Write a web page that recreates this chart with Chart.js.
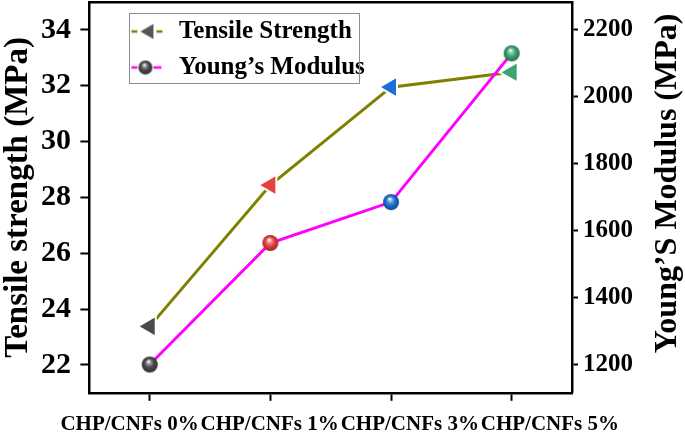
<!DOCTYPE html>
<html><head><meta charset="utf-8">
<script src="https://cdn.jsdelivr.net/npm/chart.js@4/dist/chart.umd.min.js"></script>
<style>html,body{margin:0;padding:0;background:#fff;}#wrap{width:685px;height:441px;}</style>
</head><body><div id="wrap"><canvas id="c" width="685" height="441"></canvas></div>
<script>
const categories = ['CHP/CNFs 0%', 'CHP/CNFs 1%', 'CHP/CNFs 3%', 'CHP/CNFs 5%'];
const tensileStrength = [23.38, 28.44, 31.95, 32.48];
const youngsModulus = [1201, 1564, 1686, 2130];
const markerColors = ['#4a4a4a', '#e8403f', '#1c6fd8', '#36a66e'];
const seriesNames = ['Tensile Strength', 'Young\u2019s Modulus'];
const axisTitles = ['Tensile strength (MPa)', 'Young\u2019S Modulus (MPa)'];
const tensileRange = [21, 35];
const modulusRange = [1116.67, 2283.33];
const tensileTickValues = [22, 24, 26, 28, 30, 32, 34];
const modulusTickValues = [1200, 1400, 1600, 1800, 2000, 2200];
const labelIndex = [0, 1, 2, 3];

const FONT = "'Liberation Serif', 'Times New Roman', serif";
const OLIVE = '#808000';
const MAGENTA = '#ff00ff';

function mix(hex, amt) {
  const n = parseInt(hex.slice(1), 16);
  let r = (n >> 16) & 255, g = (n >> 8) & 255, b = n & 255;
  const t = amt > 0 ? 255 : 0, a = Math.abs(amt);
  r = Math.round(r + (t - r) * a); g = Math.round(g + (t - g) * a); b = Math.round(b + (t - b) * a);
  return 'rgb(' + r + ',' + g + ',' + b + ')';
}
function paintBall(g, cx, cy, r, color) {
  const grad = g.createRadialGradient(cx - r * 0.15, cy - r * 0.4, r * 0.05, cx, cy, r);
  grad.addColorStop(0, '#ffffff');
  grad.addColorStop(0.22, mix(color, 0.45));
  grad.addColorStop(0.55, color);
  grad.addColorStop(1, mix(color, -0.35));
  g.fillStyle = grad;
  g.beginPath(); g.arc(cx, cy, r, 0, Math.PI * 2); g.fill();
}
function makeBall(color, r) {
  const s = Math.ceil(2 * r + 2);
  const c = document.createElement('canvas'); c.width = s; c.height = s;
  paintBall(c.getContext('2d'), s / 2, s / 2, r, color);
  return c;
}
function makeLegendMarker(kind) {
  const c = document.createElement('canvas'); c.width = 66; c.height = 24;
  const g = c.getContext('2d');
  const y = 12;
  g.lineWidth = 2.5;
  if (kind === 'tri') {
    g.strokeStyle = OLIVE;
    g.beginPath(); g.moveTo(31, y); g.lineTo(37, y); g.moveTo(56, y); g.lineTo(62, y); g.stroke();
    g.fillStyle = '#555555';
    g.beginPath(); g.moveTo(40, y); g.lineTo(53, y - 7.5); g.lineTo(53, y + 7.5); g.closePath(); g.fill();
  } else {
    g.strokeStyle = MAGENTA;
    g.beginPath(); g.moveTo(31, y); g.lineTo(37, y); g.moveTo(53, y); g.lineTo(61, y); g.stroke();
    paintBall(g, 45, y, 7, '#4a4a4a');
  }
  return c;
}

const ballImages = markerColors.map(c => makeBall(c, 8));
const legendMarkers = [makeLegendMarker('tri'), makeLegendMarker('ball')];

const rightTitlePlugin = {
  id: 'rightTitle',
  afterDraw(chart) {
    const s = chart.scales.y1;
    const t = s.options.title;
    const size = t.font.size, lh = size * t.font.lineHeight;
    const ctx = chart.ctx;
    ctx.save();
    ctx.translate(s.right - (t.padding.top + lh / 2), (s.top + s.bottom) / 2 - 14);
    ctx.rotate(-Math.PI / 2);
    ctx.font = 'bold ' + size + 'px ' + FONT;
    ctx.fillStyle = '#000';
    ctx.textAlign = 'center';
    ctx.textBaseline = 'middle';
    ctx.fillText(axisTitles[1], 0, 0);
    ctx.restore();
  }
};
const legendBoxPlugin = {
  id: 'legendBox',
  afterDraw(chart) {
    const lg = chart.legend;
    const hb = lg.legendHitBoxes;
    if (!hb || !hb.length) return;
    const left = Math.min(...hb.map(h => h.left)) + 29;
    const right = Math.max(...hb.map(h => h.left + h.width)) - 5;
    const top = Math.min(...hb.map(h => h.top)) - 6;
    const bottom = Math.max(...hb.map(h => h.top + h.height)) + 3;
    const ctx = chart.ctx;
    ctx.save();
    ctx.strokeStyle = '#8c8c8c';
    ctx.lineWidth = 1;
    ctx.strokeRect(Math.round(left) + 0.5, Math.round(top) + 0.5, Math.round(right - left), Math.round(bottom - top));
    ctx.restore();
  }
};
const noPad = (s) => { s.paddingTop = 0; s.paddingBottom = 0; s.paddingLeft = 0; s.paddingRight = 0; };

new Chart(document.getElementById('c'), {
  type: 'line',
  data: {
    labels: categories,
    datasets: [
      {
        label: seriesNames[0], data: tensileStrength, yAxisID: 'y', xAxisID: 'x', order: 1,
        borderColor: OLIVE, borderWidth: 3, fill: false, tension: 0,
        pointStyle: 'triangle', pointRotation: -90, pointRadius: 12,
        pointBackgroundColor: markerColors, pointBorderColor: '#ffffff', pointBorderWidth: 2
      },
      {
        label: seriesNames[1], data: youngsModulus, yAxisID: 'y1', xAxisID: 'x', order: 0,
        borderColor: MAGENTA, borderWidth: 3, fill: false, tension: 0,
        pointStyle: ballImages, pointRadius: 8,
        pointBackgroundColor: markerColors, pointBorderWidth: 0
      }
    ]
  },
  options: {
    responsive: false, animation: false, devicePixelRatio: 1,
    layout: { autoPadding: false, padding: { left: 0, right: 0, top: 2, bottom: -7 } },
    plugins: {
      tooltip: { enabled: false },
      legend: {
        position: 'chartArea', align: 'start',
        title: { display: true, text: ' ', font: { size: 1, lineHeight: 1 }, padding: { top: 7, bottom: 0 } },
        labels: {
          usePointStyle: true, pointStyleWidth: 66, padding: 11, color: '#000',
          font: { family: FONT, size: 25, weight: 'bold' },
          generateLabels: () => seriesNames.map((n, i) => ({
            text: n, pointStyle: legendMarkers[i], fillStyle: '#000', strokeStyle: '#000',
            lineWidth: 0, hidden: false, datasetIndex: i, fontColor: '#000'
          }))
        }
      }
    },
    scales: {
      x: {
        type: 'category', position: 'bottom', offset: true, weight: 0,
        ticks: { display: false },
        grid: { display: true, drawOnChartArea: false, drawTicks: true, tickLength: 8, tickWidth: 2, tickColor: '#000', color: '#000', offset: false },
        border: { display: true, color: '#000', width: 2.5 },
        afterFit: noPad
      },
      xl: {
        type: 'linear', position: 'bottom', weight: 1, min: -0.2867, max: 3.158,
        afterBuildTicks: (s) => { s.ticks = labelIndex.map(v => ({ value: v })); },
        ticks: {
          callback: (v) => categories[v], autoSkip: false, minRotation: 0, maxRotation: 0,
          color: '#000', padding: 11, font: { family: FONT, size: 21, weight: 'bold' }
        },
        grid: { display: false, drawTicks: false },
        border: { display: false },
        afterFit: noPad
      },
      xt: {
        type: 'category', position: 'top', labels: categories,
        ticks: { display: false },
        grid: { display: false, drawTicks: false },
        border: { display: true, color: '#000', width: 2.5 },
        afterFit: noPad
      },
      y: {
        position: 'left', min: tensileRange[0], max: tensileRange[1],
        afterBuildTicks: (s) => { s.ticks = tensileTickValues.map(v => ({ value: v })); },
        afterFit: noPad,
        ticks: { callback: (v) => String(v), color: '#000', padding: 9.5, font: { family: FONT, size: 30, weight: 'bold' } },
        grid: { display: true, drawOnChartArea: false, drawTicks: true, tickLength: 9, tickWidth: 2, tickColor: '#000', color: '#000' },
        border: { display: true, color: '#000', width: 2.5 },
        title: { display: true, text: axisTitles[0], color: '#000', padding: { top: 5, bottom: 0 }, font: { family: FONT, size: 33, weight: 'bold', lineHeight: 0.8 } }
      },
      y1: {
        position: 'right', min: modulusRange[0], max: modulusRange[1],
        afterBuildTicks: (s) => { s.ticks = modulusTickValues.map(v => ({ value: v })); },
        afterFit: noPad,
        ticks: { callback: (v) => String(v), color: '#000', padding: 5, font: { family: FONT, size: 25, weight: 'bold' } },
        grid: { display: true, drawOnChartArea: false, drawTicks: true, tickLength: 6, tickWidth: 2, tickColor: '#000', color: '#000' },
        border: { display: true, color: '#000', width: 2.5 },
        title: { display: true, text: axisTitles[1], color: 'rgba(0,0,0,0)', padding: { top: 1, bottom: 14 }, font: { family: FONT, size: 32, weight: 'bold', lineHeight: 1 } }
      }
    }
  },
  plugins: [rightTitlePlugin, legendBoxPlugin]
});
</script></body></html>
